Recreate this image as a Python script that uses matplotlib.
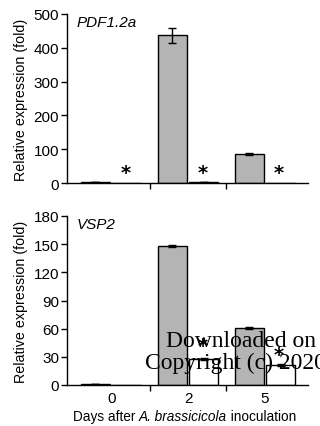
import matplotlib
matplotlib.use("Agg")
import matplotlib.pyplot as plt
import numpy as np

days = ["0", "2", "5"]

# PDF1.2a: gray = first genotype, white = second genotype
pdf_gray = [2, 437, 85]
pdf_gray_err = [0.5, 22, 3]
pdf_white = [0, 3, 0]
pdf_white_err = [0, 0.5, 0]
pdf_star = [32, 32, 32]

# VSP2
vsp_gray = [1, 148, 61]
vsp_gray_err = [0.3, 1, 1]
vsp_white = [0, 28, 21]
vsp_white_err = [0, 1, 1]
vsp_star = [None, 42, 32]

plt.rcParams['font.family'] = ['Liberation Sans', 'DejaVu Sans']

fig = plt.figure(figsize=(3.2, 4.27), dpi=100)
W, H = 320, 427

def make_ax(top, bottom):
    return fig.add_axes([67.3 / W, (H - bottom) / H, (308 - 67.3) / W, (bottom - top) / H])

ax1 = make_ax(15, 184)
ax2 = make_ax(217, 386)

x = np.arange(len(days))
bw = 0.378
off = 0.205

def draw(ax, gray, gerr, white, werr, stars, ymax, yticks, gene):
    ax.bar(x - off, gray, bw, color='#b4b4b4', edgecolor='black', linewidth=1, zorder=2)
    ax.bar(x + off, white, bw, color='white', edgecolor='black', linewidth=1, zorder=2)
    ax.errorbar(x - off, gray, yerr=gerr, fmt='none', ecolor='black', elinewidth=1, capsize=3, zorder=3)
    for i in range(len(days)):
        if werr[i] > 0:
            ax.errorbar(x[i] + off, white[i], yerr=werr[i], fmt='none', ecolor='black',
                        elinewidth=1, capsize=3, zorder=3)
        if stars[i] is not None:
            ax.text(x[i] + off - 0.02, stars[i], '*', ha='center', va='center', fontsize=14,
                    fontweight='bold', family='DejaVu Sans', zorder=4)
    ax.set_xlim(-0.57, 2.56)
    ax.set_ylim(0, ymax)
    ax.set_yticks(yticks)
    ax.tick_params(axis='y', labelsize=11, length=4, width=1, pad=2)
    ax.set_xticks([0.5, 1.5], minor=True)
    ax.tick_params(axis='x', which='minor', length=4, width=1, direction='out')
    for s in ['top', 'right']:
        ax.spines[s].set_visible(False)
    ax.spines['left'].set_linewidth(1)
    ax.spines['bottom'].set_linewidth(1)
    ax.set_ylabel('Relative expression (fold)', fontsize=10.3, labelpad=4)
    ax.text(0.04, 0.95, gene, transform=ax.transAxes, style='italic', fontsize=11,
            ha='left', va='center')

draw(ax1, pdf_gray, pdf_gray_err, pdf_white, pdf_white_err, pdf_star, 500,
     [0, 100, 200, 300, 400, 500], 'PDF1.2a')
ax1.set_xticks([])
draw(ax2, vsp_gray, vsp_gray_err, vsp_white, vsp_white_err, vsp_star, 180,
     [0, 30, 60, 90, 120, 150, 180], 'VSP2')
ax2.set_xticks(x)
ax2.set_xticklabels(days)
ax2.tick_params(axis='x', which='major', length=0, labelsize=11, pad=4)

# x label in pieces so the species name is italic with normal spacing
renderer = fig.canvas.get_renderer()
xl_parts = [('Days after ', 'normal'), ('A. brassicicola', 'italic'), (' inoculation', 'normal')]
xpos = 73.0
for txt, st in xl_parts:
    t = fig.text(xpos / W, 1 - 421 / H, txt, fontsize=9.8, style=st, ha='left', va='baseline')
    xpos += t.get_window_extent(renderer).width

# overlaid watermark text
fig.text(166 / W, 1 - 347 / H, 'Downloaded on', family=['Liberation Serif', 'DejaVu Serif'],
         fontsize=17, ha='left', va='baseline', zorder=10)
fig.text(145 / W, 1 - 369 / H, 'Copyright (c) 2020', family=['Liberation Serif', 'DejaVu Serif'],
         fontsize=17, ha='left', va='baseline', zorder=10)

fig.savefig('out.png', dpi=100)
